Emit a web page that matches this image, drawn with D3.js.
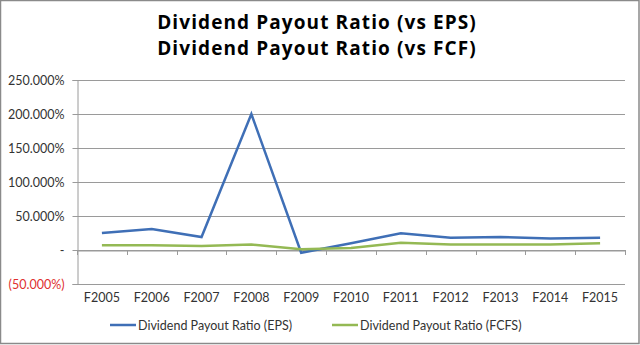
<!DOCTYPE html>
<html>
<head>
<meta charset="utf-8">
<script src="https://cdn.jsdelivr.net/npm/d3@7"></script>
<style>
  html, body { margin: 0; padding: 0; background: #fff; }
  svg { display: block; }
  text { font-family: "Lato", "DejaVu Sans", sans-serif; }
</style>
</head>
<body>
<svg id="chart" width="640" height="345"></svg>
<script>
// Fiscal years along the x axis
const years = ["F2005","F2006","F2007","F2008","F2009","F2010","F2011","F2012","F2013","F2014","F2015"];
// Payout ratios, in percent
const payoutEPS  = [25, 31, 19, 200, -4, 10, 24.5, 18, 19, 17, 18];
const payoutFCFS = [7, 7, 6, 8, 1, 3, 10.5, 8, 8, 8, 10];
// Y axis ticks, in percent
const yTicks = [-50, 0, 50, 100, 150, 200, 250];

const titleLines = ["Dividend Payout Ratio (vs EPS)", "Dividend Payout Ratio (vs FCF)"];
const seriesNames = ["Dividend Payout Ratio (EPS)", "Dividend Payout Ratio (FCFS)"];
const seriesColors = ["#3f6fb6", "#94b954"];

const svg = d3.select("#chart");
const W = 640, H = 345;
const m = { left: 77, right: 15, top: 80, bottom: 61 };

// outer frame
svg.append("rect").attr("x", 0.5).attr("y", 0.5).attr("width", W - 1.5).attr("height", H - 2)
  .attr("fill", "#fff").attr("stroke", "#8a8a8a").attr("stroke-width", 1.5);

// two-line title
svg.append("g").selectAll("text").data(titleLines).join("text")
  .attr("x", 317).attr("y", (d, i) => 29 + i * 26)
  .attr("text-anchor", "middle").attr("font-weight", "bold").attr("font-size", 19)
  .attr("letter-spacing", 1.1).attr("fill", "#000")
  .style("font-family", "'Open Sans', 'DejaVu Sans', sans-serif")
  .text(d => d);

const x = d3.scaleBand().domain(years).range([m.left, W - m.right]);
const y = d3.scaleLinear().domain([-50, 250]).range([H - m.bottom, m.top]);

// horizontal gridlines
svg.append("g").selectAll("line").data(yTicks).join("line")
  .attr("x1", m.left).attr("x2", W - m.right)
  .attr("y1", d => Math.round(y(d)) + 0.5).attr("y2", d => Math.round(y(d)) + 0.5)
  .attr("stroke", "#9a9a9a").attr("stroke-width", 1);

// y axis
const fmt = d => d === 0 ? "-" : (d < 0 ? "(" + d3.format(".3f")(-d) + "%)" : d3.format(".3f")(d) + "%");
const yAxis = svg.append("g").attr("transform", `translate(${m.left + 0.5},0)`)
  .call(d3.axisLeft(y).tickValues(yTicks).tickSize(5).tickPadding(8).tickFormat(fmt));
yAxis.select(".domain").attr("stroke", "#9a9a9a");
yAxis.selectAll(".tick line").attr("stroke", "#9a9a9a");
yAxis.selectAll(".tick text").attr("font-size", 12.5).attr("fill", d => d < 0 ? "#e03030" : "#333")
  .style("font-family", "Lato, 'DejaVu Sans', sans-serif");

// x axis on the zero line
const xAxis = svg.append("g").attr("transform", `translate(0,${Math.round(y(0)) + 0.5})`)
  .call(d3.axisBottom(x).tickSize(0).tickFormat(""));
xAxis.select(".domain").attr("stroke", "#9a9a9a");
svg.append("g").selectAll("line").data(d3.range(years.length + 1)).join("line")
  .attr("x1", i => Math.round(m.left + i * x.step()) + 0.5)
  .attr("x2", i => Math.round(m.left + i * x.step()) + 0.5)
  .attr("y1", y(0)).attr("y2", y(0) + 5)
  .attr("stroke", "#9a9a9a");

// category labels under the plot
svg.append("g").selectAll("text").data(years).join("text")
  .attr("x", d => x(d) + x.bandwidth() / 2).attr("y", 302)
  .attr("text-anchor", "middle").attr("font-size", 12.5).attr("fill", "#333").text(d => d);

// series lines
const line = d3.line().x((d, i) => x(years[i]) + x.bandwidth() / 2).y(d => y(d));
[payoutEPS, payoutFCFS].forEach((s, k) => {
  svg.append("path").datum(s).attr("d", line).attr("fill", "none")
    .attr("stroke", seriesColors[k]).attr("stroke-width", 2.5).attr("stroke-linejoin", "miter");
});

// legend
const legX = [110, 332];
seriesNames.forEach((n, k) => {
  const g = svg.append("g").attr("transform", `translate(${legX[k]},325)`);
  g.append("line").attr("x1", 0).attr("x2", 26).attr("y1", 0).attr("y2", 0)
    .attr("stroke", seriesColors[k]).attr("stroke-width", 2.5);
  g.append("text").attr("x", 28).attr("y", 4.5).attr("font-size", 12.5).attr("fill", "#333").text(n);
});
</script>
</body>
</html>
